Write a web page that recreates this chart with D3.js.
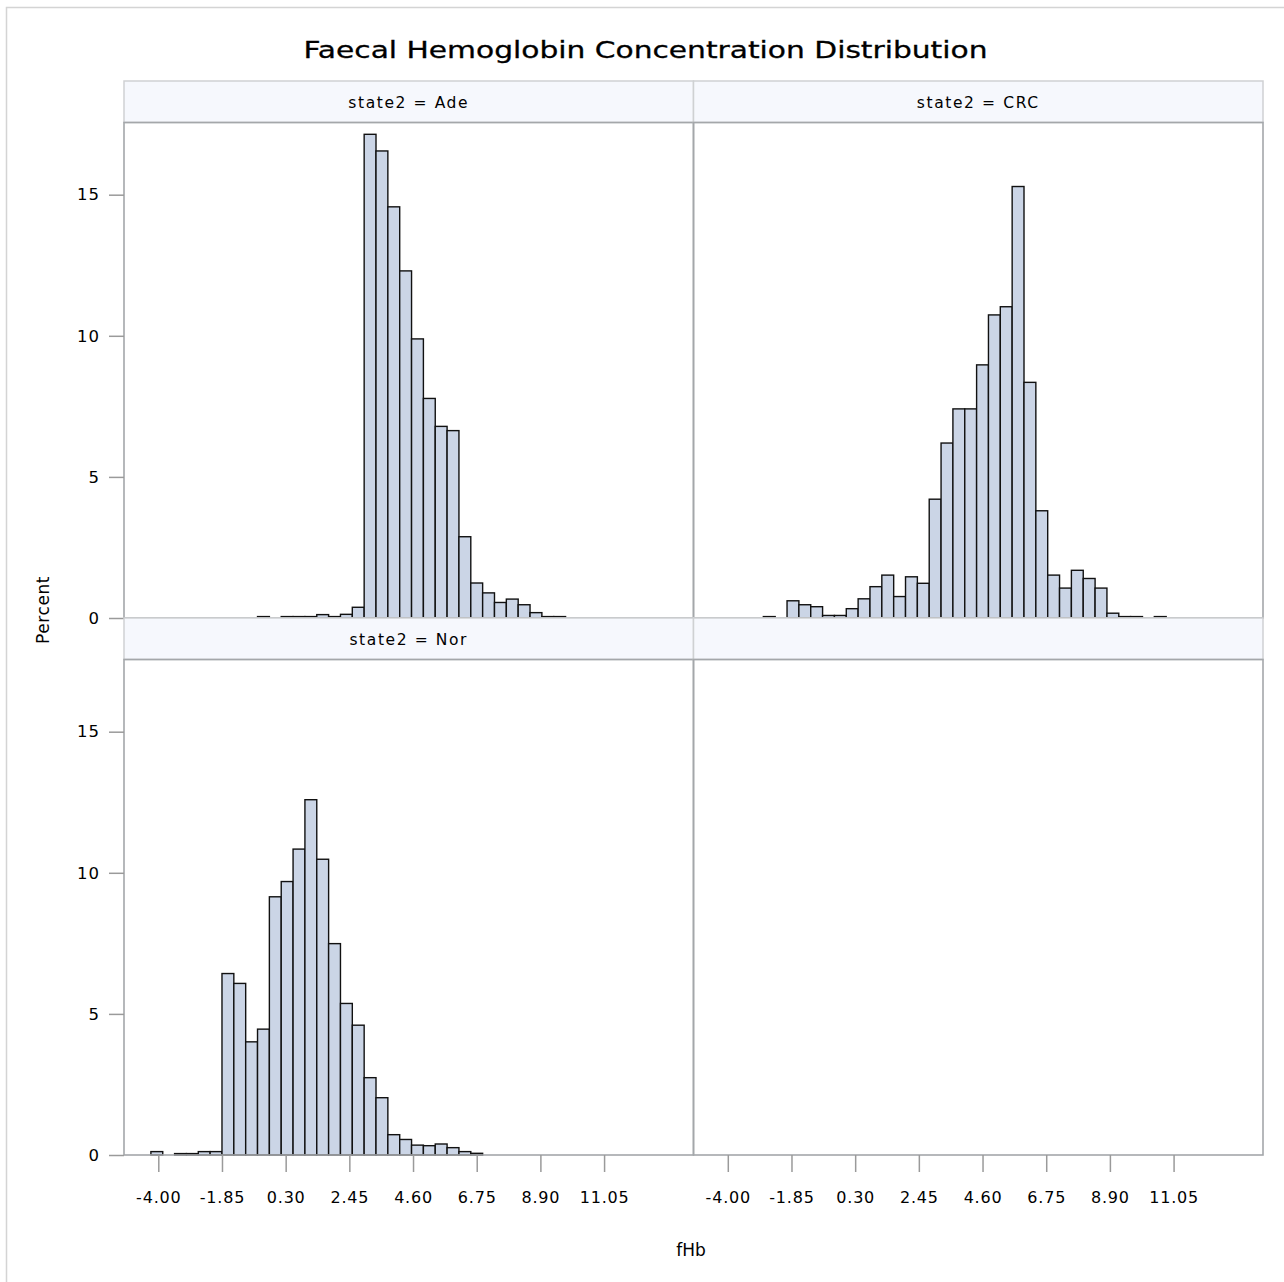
<!DOCTYPE html>
<html>
<head>
<meta charset="utf-8">
<script src="https://cdn.jsdelivr.net/npm/d3@7"></script>
<style>
  html, body { margin: 0; padding: 0; background: #fff; }
  svg { display: block; }
  text { font-family: "DejaVu Sans", Verdana, sans-serif; fill: #000; }
</style>
</head>
<body>
<svg id="chart" width="1284" height="1282"></svg>
<script>
// Histogram percentages of fHb, one array per state2 group.
// Bins are 0.4 wide; each array starts at the left edge given next to it.
const binWidth = 0.4;

const adeStart = -0.65;
const adePct = [0.05, 0, 0.05, 0.05, 0.05, 0.12, 0.05, 0.13, 0.38,
  17.14, 16.55, 14.57, 12.30, 9.89, 7.78, 6.79, 6.64, 2.88, 1.24,
  0.89, 0.55, 0.67, 0.47, 0.19, 0.05, 0.05];

const crcStart = -2.8;
const crcPct = [0.05, 0, 0.61, 0.47, 0.40, 0.09, 0.09, 0.33, 0.68, 1.11,
  1.52, 0.76, 1.46, 1.23, 4.21, 6.20, 7.41, 7.41, 8.97, 10.74, 11.03,
  15.29, 8.35, 3.80, 1.52, 1.06, 1.69, 1.40, 1.06, 0.17, 0.05, 0.05, 0, 0.05];

const norStart = -4.25;
const norPct = [0.12, 0, 0.05, 0.05, 0.12, 0.12, 6.43, 6.08, 4.01, 4.46,
  9.15, 9.69, 10.84, 12.59, 10.48, 7.49, 5.37, 4.60, 2.74, 2.03, 0.72,
  0.55, 0.35, 0.33, 0.39, 0.26, 0.12, 0.06];

const xTicks = [-4.00, -1.85, 0.30, 2.45, 4.60, 6.75, 8.90, 11.05];
const yTicks = [0, 5, 10, 15];
const titleText = "Faecal Hemoglobin Concentration Distribution";
const xLabel = "fHb";
const yLabel = "Percent";

// Panels in a 2x2 grid (row, col); the fourth cell stays empty.
const panels = [
  { label: "state2 = Ade", row: 0, col: 0, start: adeStart, values: adePct },
  { label: "state2 = CRC", row: 0, col: 1, start: crcStart, values: crcPct },
  { label: "state2 = Nor", row: 1, col: 0, start: norStart, values: norPct },
  { label: "", row: 1, col: 1, start: 0, values: [] }
];

// ---- layout ----
const colX = [124, 693.5];
const panelW = 569.5;
const rowTop = [81, 618];
const headerH = 41.5;
const plotH = 495.5;

// plain hyphen for negative tick labels
const fmtX = d => d3.format(".2f")(d).replace("\u2212", "-");

const svg = d3.select("#chart");

// outer frame
svg.append("rect")
  .attr("x", 6.5).attr("y", 7.5)
  .attr("width", 1290).attr("height", 1290)
  .attr("fill", "#fff").attr("stroke", "#d4d4d4").attr("stroke-width", 1.5);

// title
svg.append("text")
  .attr("x", 645.5).attr("y", 58)
  .attr("text-anchor", "middle")
  .attr("font-size", 23)
  .attr("textLength", 684).attr("lengthAdjust", "spacingAndGlyphs")
  .style("stroke", "#000").style("stroke-width", 0.3)
  .text(titleText);

const xDomain = [-5.158, -5.158 + panelW / 29.62];
const yDomain = [0, plotH / 28.22];

panels.forEach(p => {
  const x0 = colX[p.col];
  const hTop = rowTop[p.row];
  const pTop = hTop + headerH;
  const pBot = pTop + plotH;

  const x = d3.scaleLinear().domain(xDomain).range([x0, x0 + panelW]);
  const y = d3.scaleLinear().domain(yDomain).range([pBot, pTop]);

  const g = svg.append("g");

  // header strip
  g.append("rect")
    .attr("x", x0).attr("y", hTop)
    .attr("width", panelW).attr("height", headerH)
    .attr("fill", "#f6f8fd").attr("stroke", "#cfd1d3").attr("stroke-width", 1.5);
  if (p.label) {
    g.append("text")
      .attr("x", x0 + panelW / 2).attr("y", hTop + headerH / 2 + 6)
      .attr("text-anchor", "middle").attr("font-size", 15.5)
      .style("letter-spacing", "1.6px")
      .text(p.label);
  }

  // bars
  const bins = p.values.map((v, i) => ({
    lo: p.start + i * binWidth,
    hi: p.start + (i + 1) * binWidth,
    v
  })).filter(d => d.v > 0);

  g.append("g").selectAll("rect")
    .data(bins)
    .join("rect")
    .attr("x", d => x(d.lo))
    .attr("y", d => y(d.v))
    .attr("width", d => x(d.hi) - x(d.lo))
    .attr("height", d => y(0) - y(d.v))
    .attr("fill", "#cbd5e6")
    .attr("stroke", "#111")
    .attr("stroke-width", 1.4);

  // plot frame
  g.append("rect")
    .attr("x", x0).attr("y", pTop)
    .attr("width", panelW).attr("height", plotH)
    .attr("fill", "none").attr("stroke", "#a4a7aa").attr("stroke-width", 1.6);

  // y axis on left column
  if (p.col === 0) {
    const ya = d3.axisLeft(y).tickValues(yTicks).tickFormat(d3.format("d"))
      .tickSize(15).tickPadding(9);
    const ag = g.append("g").attr("transform", `translate(${x0},0)`).call(ya);
    ag.select(".domain").remove();
    ag.selectAll(".tick line").attr("stroke", "#9a9a9a").attr("stroke-width", 1.5);
    ag.selectAll(".tick text").attr("font-size", 16.5)
      .style("letter-spacing", "1px")
      .attr("font-family", "DejaVu Sans").attr("fill", "#000");
  }

  // x axis on bottom row
  if (p.row === 1) {
    const xa = d3.axisBottom(x).tickValues(xTicks).tickFormat(fmtX)
      .tickSize(17).tickPadding(20);
    const ag = g.append("g").attr("transform", `translate(0,${pBot})`).call(xa);
    ag.select(".domain").remove();
    ag.selectAll(".tick line").attr("stroke", "#9a9a9a").attr("stroke-width", 1.5);
    ag.selectAll(".tick text").attr("font-size", 16)
      .style("letter-spacing", "0.8px")
      .attr("font-family", "DejaVu Sans").attr("fill", "#000");
  }
});

// axis titles
svg.append("text")
  .attr("transform", "translate(49,610) rotate(-90)")
  .attr("text-anchor", "middle").attr("font-size", 17)
  .style("letter-spacing", "0.6px")
  .text(yLabel);

svg.append("text")
  .attr("x", 691).attr("y", 1256)
  .attr("text-anchor", "middle").attr("font-size", 17)
  .text(xLabel);
</script>
</body>
</html>
